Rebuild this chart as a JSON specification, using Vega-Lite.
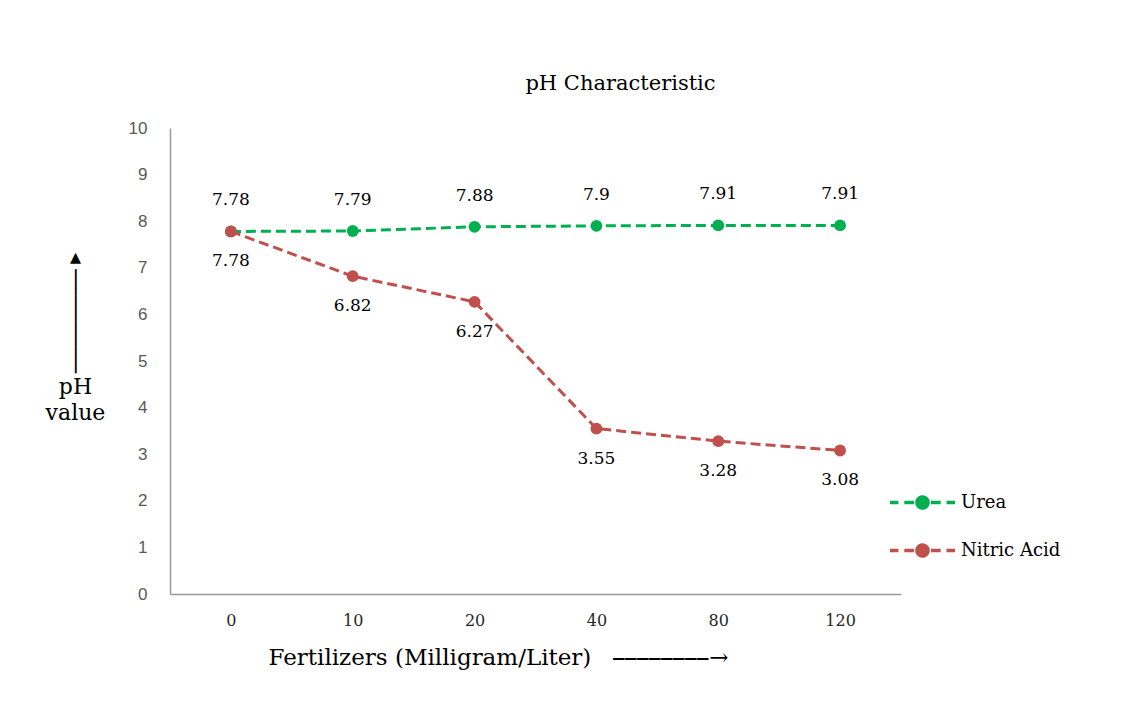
{
  "$schema": "https://vega.github.io/schema/vega-lite/v6.json",
  "width": 731,
  "height": 466,
  "autosize": "none",
  "padding": {"left": 170, "top": 128, "right": 234, "bottom": 116},
  "background": "white",
  "config": {"view": {"stroke": null}},
  "title": {"text": "pH Characteristic", "font": "DejaVu Serif", "fontSize": 21, "fontWeight": "normal", "color": "#000000", "anchor": "middle", "dx": 85, "offset": 25},
  "data": {"values": [
    {"dose": "0", "series": "Urea", "ph": 7.78},
    {"dose": "10", "series": "Urea", "ph": 7.79},
    {"dose": "20", "series": "Urea", "ph": 7.88},
    {"dose": "40", "series": "Urea", "ph": 7.9},
    {"dose": "80", "series": "Urea", "ph": 7.91},
    {"dose": "120", "series": "Urea", "ph": 7.91},
    {"dose": "0", "series": "Nitric Acid", "ph": 7.78},
    {"dose": "10", "series": "Nitric Acid", "ph": 6.82},
    {"dose": "20", "series": "Nitric Acid", "ph": 6.27},
    {"dose": "40", "series": "Nitric Acid", "ph": 3.55},
    {"dose": "80", "series": "Nitric Acid", "ph": 3.28},
    {"dose": "120", "series": "Nitric Acid", "ph": 3.08}
  ]},
  "encoding": {
    "x": {
      "field": "dose", "type": "ordinal", "sort": ["0", "10", "20", "40", "80", "120"],
      "scale": {"type": "point", "padding": 0.5},
      "axis": {
        "labelAngle": 0, "ticks": false, "grid": false, "domainColor": "#9a9a9a", "domainWidth": 1.5,
        "labelFont": "DejaVu Serif", "labelFontSize": 16, "labelColor": "#262626", "labelPadding": 18,
        "title": "Fertilizers (Milligram/Liter)\u00a0\u00a0\u00a0⎯⎯⎯⎯⎯⎯⎯⎯→",
        "titleFont": "DejaVu Serif", "titleFontSize": 23, "titleFontWeight": "normal", "titleColor": "#000000",
        "titleAnchor": "start", "titleAlign": "left", "titleBaseline": "middle", "titleX": 98, "titleY": 63
      }
    },
    "y": {
      "field": "ph", "type": "quantitative",
      "scale": {"domain": [0, 10], "nice": false, "zero": true},
      "axis": {
        "values": [0, 1, 2, 3, 4, 5, 6, 7, 8, 9, 10], "ticks": false, "grid": false,
        "domainColor": "#9a9a9a", "domainWidth": 1.5,
        "labelFont": "Liberation Sans", "labelFontSize": 17, "labelColor": "#595959", "labelPadding": 23,
        "title": ["▴", "│", "│", "│", "│", "pH", "value"],
        "titleFont": "DejaVu Serif", "titleFontSize": 22, "titleFontWeight": "normal", "titleColor": "#000000",
        "titleAngle": 0, "titleAlign": "center", "titleBaseline": "top", "titleLineHeight": 26,
        "titleX": -95, "titleY": 118
      }
    }
  },
  "layer": [
    {
      "mark": {"type": "line", "strokeDash": [10, 5], "strokeWidth": 3},
      "encoding": {
        "color": {
          "field": "series", "type": "nominal",
          "scale": {"domain": ["Urea", "Nitric Acid"], "range": ["#00B050", "#C0504D"]},
          "legend": {
            "orient": "none", "legendX": 718, "legendY": 340, "title": null,
            "symbolType": "M-1,0H-0.74M-0.56,0H-0.26M0.26,0H0.56M0.74,0H1M0.17,0A0.17,0.17,0,1,1,-0.17,0A0.17,0.17,0,1,1,0.17,0Z",
            "symbolSize": 4225, "symbolStrokeWidth": 3.5,
            "labelFont": "DejaVu Serif", "labelFontSize": 18, "labelColor": "#000000", "labelOffset": 4,
            "rowPadding": -15,
            "encode": {"symbols": {"update": {
              "fill": {"scale": "color", "field": "value"},
              "stroke": {"scale": "color", "field": "value"},
              "strokeDash": {"value": [1, 0]},
              "opacity": {"value": 1}
            }}}
          }
        }
      }
    },
    {
      "mark": {"type": "point", "filled": true, "size": 140, "opacity": 1},
      "encoding": {"color": {"field": "series", "type": "nominal"}}
    },
    {
      "transform": [{"filter": "datum.series === 'Urea'"}],
      "mark": {"type": "text", "font": "DejaVu Serif", "fontSize": 17, "color": "#000000", "dy": -31},
      "encoding": {"text": {"field": "ph", "type": "nominal"}}
    },
    {
      "transform": [{"filter": "datum.series === 'Nitric Acid'"}],
      "mark": {"type": "text", "font": "DejaVu Serif", "fontSize": 17, "color": "#000000", "dy": 30},
      "encoding": {"text": {"field": "ph", "type": "nominal"}}
    }
  ]
}
